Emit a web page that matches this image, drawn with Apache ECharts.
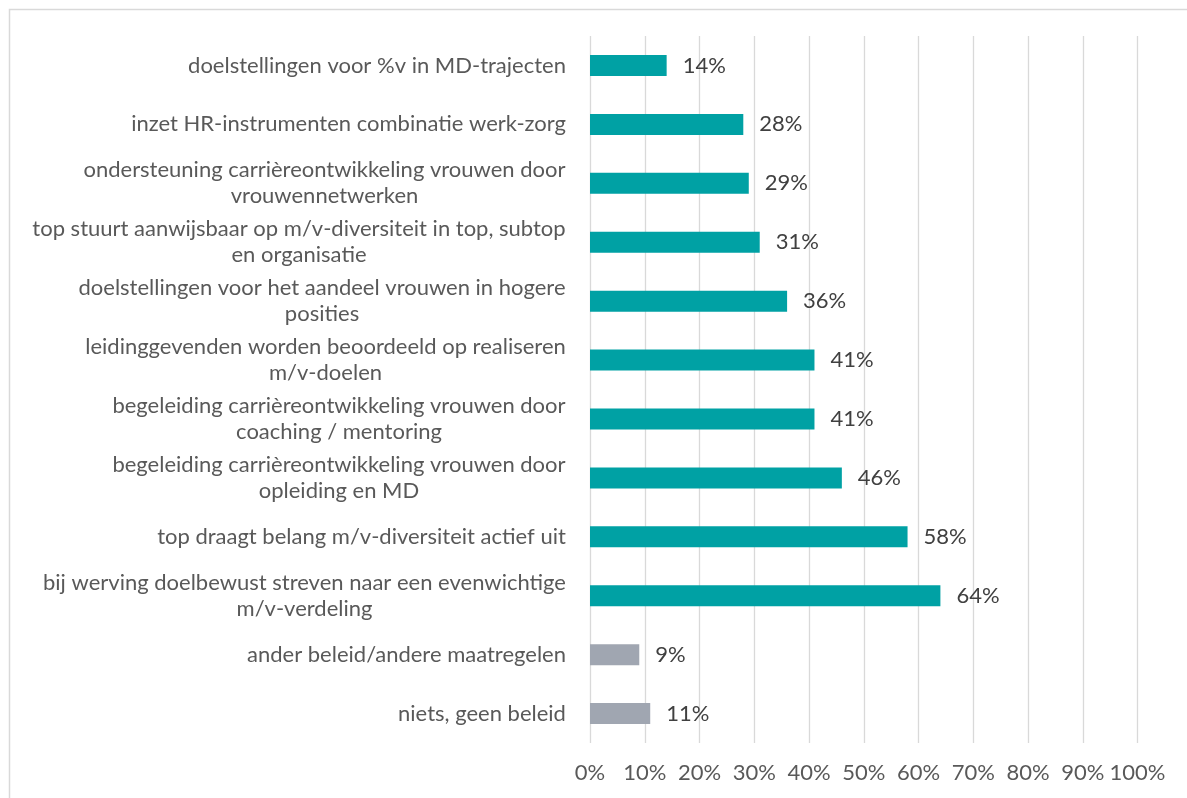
<!DOCTYPE html>
<html>
<head>
<meta charset="utf-8">
<script src="https://cdn.jsdelivr.net/npm/echarts@6/dist/echarts.min.js"></script>
<style>
  html, body { margin: 0; padding: 0; background: #fff; }
  #chart { width: 1187px; height: 798px; }
</style>
</head>
<body>
<div id="chart"></div>
<script>
// Beleidsmaatregelen, top to bottom
const categories = [
  'doelstellingen voor %v in MD-trajecten',
  'inzet HR-instrumenten combinatie werk-zorg',
  'ondersteuning carrièreontwikkeling vrouwen door\nvrouwennetwerken',
  'top stuurt aanwijsbaar op m/v-diversiteit in top, subtop\nen organisatie',
  'doelstellingen voor het aandeel vrouwen in hogere\nposities',
  'leidinggevenden worden beoordeeld op realiseren\nm/v-doelen',
  'begeleiding carrièreontwikkeling vrouwen door\ncoaching / mentoring',
  'begeleiding carrièreontwikkeling vrouwen door\nopleiding en MD',
  'top draagt belang m/v-diversiteit actief uit',
  'bij werving doelbewust streven naar een evenwichtige\nm/v-verdeling',
  'ander beleid/andere maatregelen',
  'niets, geen beleid'
];
const values = [14, 28, 29, 31, 36, 41, 41, 46, 58, 64, 9, 11];
// 'other' / 'none' answers are drawn in grey
const isOther = [false, false, false, false, false, false, false, false, false, false, true, true];

const TEAL = '#00A1A4';
const GREY = '#A0A6B1';
const FONT = 'Lato, sans-serif';
const FS = 22;

// measure each label so its lines can be centred within a right-aligned block
const ctx = document.createElement('canvas').getContext('2d');
ctx.font = FS + 'px ' + FONT;
const rich = {};
categories.forEach((c, i) => {
  const w = Math.max(...c.split('\n').map(s => ctx.measureText(s).width));
  rich['c' + i] = { width: Math.ceil(w), align: 'center', fontSize: FS, fontFamily: FONT, color: '#595959', lineHeight: 26 };
});

const chart = echarts.init(document.getElementById('chart'));
chart.setOption({
  animation: false,
  backgroundColor: '#fff',
  graphic: [{
    type: 'rect', left: 7, top: 7,
    shape: { width: 1200, height: 800 },
    style: { fill: 'none', stroke: '#D9D9D9', lineWidth: 1.5 },
    silent: true
  }],
  grid: { left: 590, right: 49.5, top: 36, bottom: 55 },
  xAxis: {
    type: 'value', min: 0, max: 100, interval: 10,
    axisLine: { show: false }, axisTick: { show: false },
    splitLine: { show: true, lineStyle: { color: '#D9D9D9', width: 1.3 } },
    axisLabel: { formatter: '{value}%', color: '#595959', fontSize: FS, fontFamily: FONT, margin: 19 }
  },
  yAxis: {
    type: 'category', data: categories, inverse: true,
    axisLine: { show: false }, axisTick: { show: false },
    axisLabel: {
      margin: 24, interval: 0,
      formatter: (v, idx) => '{c' + idx + '|' + v + '}',
      rich
    }
  },
  series: [{
    type: 'bar',
    barWidth: 21,
    data: values.map((v, i) => ({ value: v, itemStyle: { color: isOther[i] ? GREY : TEAL } })),
    label: {
      show: true, position: 'right', distance: 16,
      formatter: '{c}%', color: '#404040', fontSize: FS, fontFamily: FONT
    }
  }]
});
</script>
</body>
</html>
